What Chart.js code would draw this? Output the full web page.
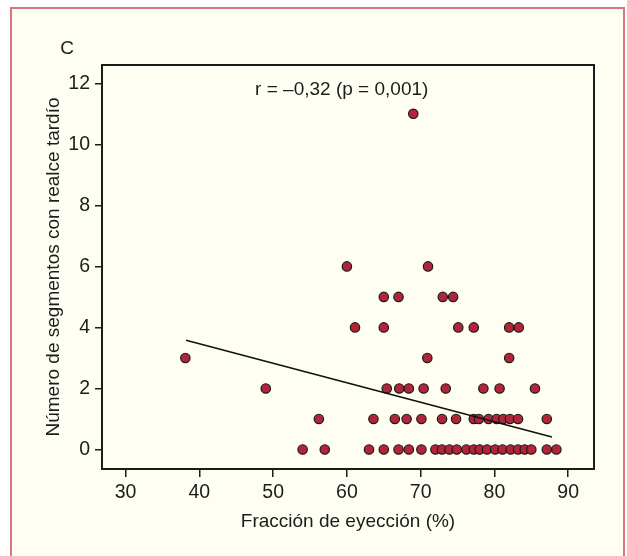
<!DOCTYPE html>
<html>
<head>
<meta charset="utf-8">
<script src="https://cdn.jsdelivr.net/npm/chart.js@4.4.1/dist/chart.umd.min.js"></script>
<style>
  html, body { margin: 0; padding: 0; background: #fff; overflow: hidden; }
  #marco {
    position: absolute; left: 10px; top: 7px; width: 611px; height: 549px;
    border: 2px solid #d97583; border-bottom: none; background: #fefef3;
  }
  #chart { position: absolute; left: 0; top: 0; }
</style>
</head>
<body>
<div id="marco"></div>
<canvas id="chart" width="627" height="556"></canvas>
<script>
// Datos
const fraccion = [
  54, 57, 63, 65, 67, 68.4, 70.1, 72, 72.9, 73.9, 74.9, 76.2, 77.2, 78, 79, 80.1, 81.1, 82.2, 83.2, 84.1, 85, 87.1, 88.4,
  56.2, 63.6, 66.5, 68.1, 70.1, 72.9, 74.8, 77.2, 77.9, 79.2, 80.3, 81.2, 82.1, 83.2, 87.1,
  49, 65.4, 67.1, 68.4, 70.4, 73.4, 78.5, 80.7, 85.5,
  38.1, 70.9, 82,
  61.1, 65, 75.1, 77.2, 82, 83.3,
  65, 67, 73, 74.4,
  60, 71,
  69
];
const segmentos = [
  0, 0, 0, 0, 0, 0, 0, 0, 0, 0, 0, 0, 0, 0, 0, 0, 0, 0, 0, 0, 0, 0, 0,
  1, 1, 1, 1, 1, 1, 1, 1, 1, 1, 1, 1, 1, 1, 1,
  2, 2, 2, 2, 2, 2, 2, 2, 2,
  3, 3, 3,
  4, 4, 4, 4, 4, 4,
  5, 5, 5, 5,
  6, 6,
  11
];
// Recta de regresión
const rectaX = [38.2, 87.8];
const rectaY = [3.58, 0.41];

const xTicks = [30, 40, 50, 60, 70, 80, 90];
const yTicks = [0, 2, 4, 6, 8, 10, 12];
const rotulo = 'r = –0,32 (p = 0,001)';

const fuente = '"Liberation Sans", Arial, sans-serif';
const tinta = '#1c1c1c';

// Marco del área y textos sueltos
const extras = {
  id: 'extras',
  afterDraw(chart) {
    const {ctx, chartArea: a, scales: {x, y}} = chart;
    ctx.save();
    ctx.strokeStyle = tinta;
    ctx.lineWidth = 2;
    ctx.strokeRect(a.left, a.top, a.right - a.left, a.bottom - a.top);
    ctx.fillStyle = tinta;
    ctx.font = '19px ' + fuente;
    ctx.textAlign = 'center';
    ctx.textBaseline = 'middle';
    ctx.fillText(rotulo, x.getPixelForValue(59.3), y.getPixelForValue(11.78));
    ctx.fillText('C', 67, 49);
    ctx.restore();
  }
};

const config = {
  type: 'scatter',
  data: {
    datasets: [
      {
        type: 'line',
        data: rectaX.map((v, i) => ({x: v, y: rectaY[i]})),
        borderColor: '#111',
        borderWidth: 1.6,
        pointRadius: 0,
        fill: false,
        order: 0
      },
      {
        data: fraccion.map((v, i) => ({x: v, y: segmentos[i]})),
        backgroundColor: '#b2243a',
        borderColor: '#1a1a1a',
        borderWidth: 1.2,
        pointRadius: 4.7,
        order: 1
      }
    ]
  },
  options: {
    responsive: false,
    animation: false,
    devicePixelRatio: 1,
    layout: { padding: { left: 0, top: 65, right: 33, bottom: 0 } },
    plugins: { legend: { display: false }, tooltip: { enabled: false } },
    scales: {
      x: {
        type: 'linear',
        min: 26.8,
        max: 93.5,
        afterFit: (s) => { s.height = 87; },
        afterBuildTicks: (s) => { s.ticks = xTicks.map(v => ({value: v})); },
        border: { display: false },
        grid: { drawOnChartArea: false, drawTicks: true, tickLength: 8, color: tinta, lineWidth: 1.5 },
        ticks: { color: tinta, padding: 4, font: { family: fuente, size: 19.5, lineHeight: 1.2 } },
        title: {
          display: true,
          text: 'Fracción de eyección (%)',
          color: tinta,
          padding: { top: 0, bottom: 23 },
          font: { family: fuente, size: 19, lineHeight: 1.2 }
        }
      },
      y: {
        type: 'linear',
        min: -0.64,
        max: 12.6,
        afterFit: (s) => { s.width = 102; },
        afterBuildTicks: (s) => { s.ticks = yTicks.map(v => ({value: v})); },
        border: { display: false },
        grid: { drawOnChartArea: false, drawTicks: true, tickLength: 7, color: tinta, lineWidth: 1.5 },
        ticks: { color: tinta, padding: 5, font: { family: fuente, size: 19.5, lineHeight: 1.2 } },
        title: {
          display: true,
          text: 'Número de segmentos con realce tardío',
          color: tinta,
          padding: { top: 42.5, bottom: 0 },
          font: { family: fuente, size: 19, lineHeight: 1.2 }
        }
      }
    }
  },
  plugins: [extras]
};

const myChart = new Chart(document.getElementById('chart'), config);
</script>
</body>
</html>
